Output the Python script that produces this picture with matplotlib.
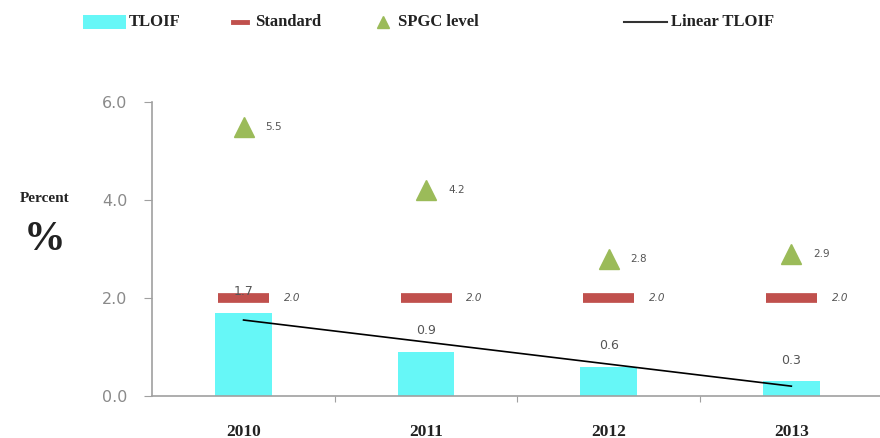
import matplotlib
matplotlib.use("Agg")
import matplotlib.pyplot as plt
import numpy as np
from matplotlib.lines import Line2D
from matplotlib.patches import Rectangle

years = ["2010", "2011", "2012", "2013"]
tloif = [1.7, 0.9, 0.6, 0.3]
standard = [2.0, 2.0, 2.0, 2.0]
spgc = [5.5, 4.2, 2.8, 2.9]
yticks = [0.0, 2.0, 4.0, 6.0]

W, H = 880, 438
fig = plt.figure(figsize=(W / 100, H / 100), dpi=100)
ax = fig.add_axes([0.173, 0.096, 0.83, 0.671])
x = np.arange(len(years))

cyan = "#66F7F7"
red = "#C0504D"
green = "#9BBB59"
gray = "#8A8A8A"
serif = "Liberation Serif"

ax.bar(x, tloif, width=0.31, color=cyan, zorder=2)
for xi, v in zip(x, tloif):
    ax.text(xi, v + 0.3, f"{v:.1f}", ha="center", va="bottom", fontsize=9, color="#555555", zorder=5)

for xi, v in zip(x, standard):
    ax.plot([xi - 0.14, xi + 0.14], [v, v], color=red, lw=7, solid_capstyle="butt", zorder=3)
    ax.text(xi + 0.22, v, f"{v:.1f}", ha="left", va="center", fontsize=7.5, color="#555555", style="italic")

ax.plot(x, spgc, linestyle="none", marker="^", markersize=14, color=green, zorder=4)
for xi, v in zip(x, spgc):
    ax.text(xi + 0.12, v, f"{v:.1f}", ha="left", va="center", fontsize=7.5, color="#555555")

coef = np.polyfit(x, tloif, 1)
ax.plot(x, np.polyval(coef, x), color="black", lw=1.2, zorder=4)

ax.set_xlim(-0.5, 3.5)
ax.set_ylim(0, 6)
ax.set_yticks(yticks)
ax.set_yticklabels([f"{t:.1f}" for t in yticks], fontsize=11.5, color=gray)
ax.set_xticks([0.5, 1.5, 2.5])
ax.set_xticklabels([])
ax.tick_params(axis="x", length=4, color="#A0A0A0", direction="out")
ax.tick_params(axis="y", length=6, color="#A0A0A0", direction="out", pad=12)
for xi, yr in zip(x, years):
    ax.text(xi, -0.73, yr, ha="center", va="center", fontsize=12.5, fontweight="bold",
            family=serif, color="#222222")

for s in ["top", "right"]:
    ax.spines[s].set_visible(False)
for s in ["left", "bottom"]:
    ax.spines[s].set_color("#A0A0A0")
    ax.spines[s].set_linewidth(1.2)

fig.text(45 / W, 1 - 198 / H, "Percent", fontsize=11, fontweight="bold", family=serif,
         ha="center", va="center", color="#222222")
fig.text(45 / W, 1 - 240 / H, "%", fontsize=30, fontweight="bold", family=serif,
         ha="center", va="center", color="#222222")

# manual legend (pixel positions from top-left)
ly = 1 - 22 / H
fig.patches.append(Rectangle((83 / W, 1 - 29 / H), 43 / W, 14 / H, transform=fig.transFigure,
                             facecolor=cyan, edgecolor="none"))
fig.text(129 / W, ly, "TLOIF", fontsize=12, fontweight="bold", family=serif, ha="left", va="center",
         color="#222222")
fig.lines.append(Line2D([233 / W, 247 / W], [ly, ly], transform=fig.transFigure, color=red, lw=3.5))
fig.text(255 / W, ly, "Standard", fontsize=12, fontweight="bold", family=serif, ha="left", va="center",
         color="#222222")
fig.lines.append(Line2D([383 / W], [ly], transform=fig.transFigure, marker="^", markersize=9,
                        color=green, linestyle="none"))
fig.text(398 / W, ly, "SPGC level", fontsize=12, fontweight="bold", family=serif, ha="left",
         va="center", color="#222222")
fig.lines.append(Line2D([624 / W, 667 / W], [ly, ly], transform=fig.transFigure, color="#333333", lw=1.5))
fig.text(671 / W, ly, "Linear TLOIF", fontsize=12, fontweight="bold", family=serif, ha="left",
         va="center", color="#222222")

fig.savefig("out.png", dpi=100)
